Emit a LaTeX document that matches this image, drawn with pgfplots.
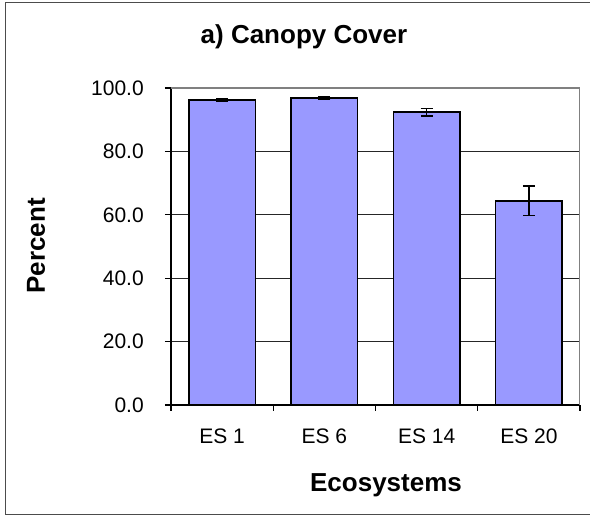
\documentclass[border=0pt]{standalone}
\usepackage{fontspec}
\setmainfont{Liberation Sans}
\usepackage{pgfplots}
\pgfplotsset{compat=1.18}
\usepackage{pgfplotstable}

\definecolor{barfill}{RGB}{153,153,255}
\definecolor{plotborder}{RGB}{128,128,128}

\pgfplotstableread{
x    y     err
0.5  96.2  0.35
1.5  96.8  0.45
2.5  92.4  1.2
3.5  64.4  4.7
}\canopy

\begin{document}
\begin{tikzpicture}
% 1px = 0.75pt, origin at the lower left corner of the plot area
\useasboundingbox (-128.25pt,-83.25pt) rectangle (314.25pt,303.75pt);
\begin{axis}[
    at={(0pt,0pt)}, anchor=south west,
    scale only axis,
    width=306.75pt, height=237.75pt,
    xmin=0, xmax=4, ymin=0, ymax=100,
    axis x line*=bottom, axis y line*=left,
    axis line style={black, line width=0.8pt},
    tick align=outside,
    major tick length=4.5pt, minor tick length=4.5pt,
    tick style={black, line width=0.8pt},
    xtick={0.5,1.5,2.5,3.5},
    xticklabels={ES 1, ES 6, ES 14, ES 20},
    major x tick style={draw=none},
    minor xtick={0,1,2,3,4},
    ytick={0,20,...,100},
    /pgf/number format/fixed,
    /pgf/number format/fixed zerofill,
    /pgf/number format/precision=1,
    /pgf/number format/assume math mode=true,
    ticklabel style={font=\fontsize{15.75pt}{18pt}\selectfont},
    xticklabel style={anchor=base, inner sep=0pt, yshift=-24.75pt},
    yticklabel style={anchor=east, inner sep=0pt, xshift=-15.75pt},
    ymajorgrids,
    grid style={black!85, line width=0.75pt},
]
\addplot[ybar, bar width=50pt, fill=barfill, draw=black, line width=1.1pt,
    error bars/.cd, y dir=both, y explicit,
    error bar style={black, line width=1.1pt},
    error mark options={rotate=90, mark size=4.5pt, black, line width=1.1pt}]
    table[x=x, y=y, y error=err] {\canopy};
\draw[plotborder, line width=1.5pt] (rel axis cs:0,1) -- (rel axis cs:1,1) -- (rel axis cs:1,0);
\end{axis}
% chart frame
\draw[black!70, line width=0.75pt] (330pt,301.5pt) -- (-123.75pt,301.5pt) -- (-123.75pt,-82.5pt) -- (330pt,-82.5pt);
% title and axis titles
\node[anchor=base, font=\bfseries\fontsize{19.5pt}{22pt}\selectfont] at (99.75pt,271.3pt) {a) Canopy Cover};
\node[anchor=base, rotate=90, font=\bfseries\fontsize{19.5pt}{22pt}\selectfont] at (-94.5pt,119.25pt) {Percent};
\node[anchor=base, font=\bfseries\fontsize{19.5pt}{22pt}\selectfont] at (161.25pt,-65.25pt) {Ecosystems};
\end{tikzpicture}
\end{document}
